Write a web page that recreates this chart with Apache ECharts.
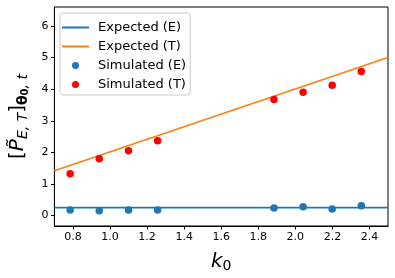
<!DOCTYPE html>
<html>
<head>
<meta charset="utf-8">
<script src="https://cdn.jsdelivr.net/npm/echarts@6/dist/echarts.min.js"></script>
<style>html,body{margin:0;padding:0;background:#fff;}#c{width:395px;height:278px;}</style>
</head>
<body>
<div id="c"></div>
<script>
// Data
const seriesNames = ['Expected (E)', 'Expected (T)', 'Simulated (E)', 'Simulated (T)'];
const k0 = [0.785, 0.942, 1.100, 1.257, 1.885, 2.042, 2.199, 2.356];
const simE = [0.18, 0.15, 0.18, 0.18, 0.24, 0.28, 0.21, 0.31];
const simT = [1.32, 1.80, 2.05, 2.37, 3.67, 3.90, 4.12, 4.56];
const expectedX = [0.7, 2.5];
const expectedE = [0.25, 0.25];
const expectedT = [1.42, 5.0];
const xTicks = [0.8, 1.0, 1.2, 1.4, 1.6, 1.8, 2.0, 2.2, 2.4];
const yTicks = [0, 1, 2, 3, 4, 5, 6];

const pair = (xs, ys) => xs.map((x, i) => [x, ys[i]]);
const font = 'DejaVu Sans';
const lineIcon = 'path://M0,0H27V2H0Z';

const chart = echarts.init(document.getElementById('c'));
chart.setOption({
  animation: false,
  backgroundColor: '#fff',
  textStyle: { fontFamily: font },
  grid: { left: 54, right: 7, top: 7, bottom: 52, show: true, borderColor: '#000', borderWidth: 1 },
  legend: {
    left: 60, top: 13, orient: 'vertical',
    data: [
      { name: seriesNames[0], icon: lineIcon },
      { name: seriesNames[1], icon: lineIcon },
      { name: seriesNames[2], icon: 'circle' },
      { name: seriesNames[3], icon: 'circle' }
    ],
    itemWidth: 27, itemHeight: 7, itemGap: 4,
    padding: [7, 4, 3, 2],
    borderColor: '#ccc', borderWidth: 1, borderRadius: 3,
    textStyle: { fontFamily: font, fontSize: 13, color: '#000', lineHeight: 15, padding: [0, 0, 0, 4] }
  },
  xAxis: {
    type: 'value', min: 0.7, max: 2.5,
    name: '{k|k}{s|0}', nameLocation: 'middle', nameGap: 24,
    nameTextStyle: {
      rich: {
        k: { fontFamily: font, fontStyle: 'italic', fontSize: 20, color: '#000' },
        s: { fontFamily: font, fontSize: 14, color: '#000', padding: [9, 0, 0, 0] }
      }
    },
    axisLine: { show: true, onZero: false, lineStyle: { color: '#000', width: 1 } },
    axisTick: { show: true, length: 3.5, lineStyle: { color: '#000' }, customValues: xTicks },
    axisLabel: { fontFamily: font, fontSize: 11, color: '#000', margin: 6, customValues: xTicks,
      formatter: v => v.toFixed(1) },
    splitLine: { show: false }
  },
  yAxis: {
    type: 'value', min: -0.33, max: 6.6,
    name: '{a|[}{p|P̃}{s|E, T}{a|]}{b|θ}{ss|0}{s|, t}', nameLocation: 'middle', nameGap: 21,
    nameTextStyle: {
      rich: {
        a: { fontFamily: font, fontSize: 20, color: '#000' },
        p: { fontFamily: font, fontStyle: 'italic', fontSize: 20, color: '#000' },
        s: { fontFamily: font, fontStyle: 'italic', fontSize: 14, color: '#000', padding: [10, 0, 0, 0] },
        b: { fontFamily: font, fontWeight: 'bold', fontSize: 14, color: '#000', padding: [10, 0, 0, 0] },
        ss: { fontFamily: font, fontWeight: 'bold', fontSize: 10, color: '#000', padding: [15, 0, 0, 0] }
      }
    },
    axisLine: { show: true, onZero: false, lineStyle: { color: '#000', width: 1 } },
    axisTick: { show: true, length: 3.5, lineStyle: { color: '#000' }, customValues: yTicks },
    axisLabel: { fontFamily: font, fontSize: 11, color: '#000', margin: 6, customValues: yTicks },
    splitLine: { show: false }
  },
  series: [
    { name: seriesNames[0], type: 'line', data: pair(expectedX, expectedE), symbol: 'none',
      lineStyle: { color: '#1f77b4', width: 1.7 }, itemStyle: { color: '#1f77b4' }, z: 2 },
    { name: seriesNames[1], type: 'line', data: pair(expectedX, expectedT), symbol: 'none',
      lineStyle: { color: '#ff7f0e', width: 1.5 }, itemStyle: { color: '#ff7f0e' }, z: 2 },
    { name: seriesNames[2], type: 'scatter', data: pair(k0, simE), symbolSize: 7.5,
      itemStyle: { color: '#1f77b4', opacity: 1 }, z: 3 },
    { name: seriesNames[3], type: 'scatter', data: pair(k0, simT), symbolSize: 7.5,
      itemStyle: { color: '#ff0000', opacity: 1 }, z: 3 }
  ]
});
</script>
</body>
</html>
